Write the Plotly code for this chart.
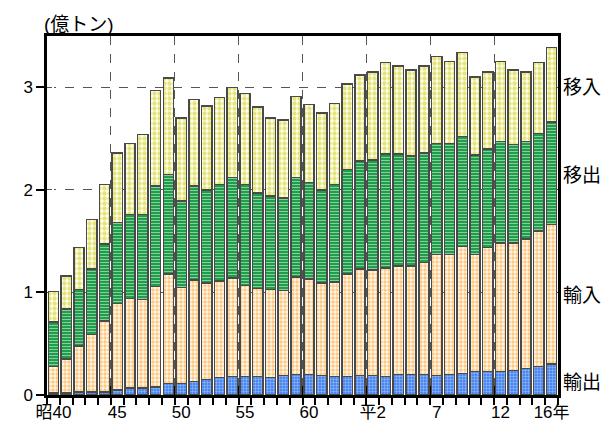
import plotly.graph_objects as go

years = list(range(40))
tick_idx = [0, 5, 10, 15, 20, 25, 30, 35, 39]
tick_text = ["昭40", "45", "50", "55", "60", "平2", "7", "12", "16年"]

exports = [0.02, 0.02, 0.03, 0.03, 0.03, 0.05, 0.07, 0.07, 0.08, 0.11,
           0.11, 0.13, 0.15, 0.17, 0.18, 0.18, 0.18, 0.17, 0.19, 0.20,
           0.20, 0.19, 0.18, 0.18, 0.19, 0.19, 0.18, 0.20, 0.20, 0.20,
           0.19, 0.20, 0.21, 0.23, 0.23, 0.23, 0.24, 0.26, 0.28, 0.30]
imports = [0.26, 0.33, 0.45, 0.56, 0.69, 0.84, 0.87, 0.86, 0.98, 1.07,
           0.94, 0.99, 0.94, 0.94, 0.96, 0.89, 0.86, 0.86, 0.83, 0.95,
           0.93, 0.90, 0.92, 1.00, 1.04, 1.03, 1.06, 1.06, 1.06, 1.09,
           1.18, 1.17, 1.24, 1.14, 1.21, 1.25, 1.24, 1.26, 1.32, 1.36]
ship_out = [0.43, 0.49, 0.55, 0.64, 0.75, 0.79, 0.82, 0.83, 0.98, 0.97,
            0.84, 0.92, 0.91, 0.94, 0.98, 0.98, 0.93, 0.91, 0.90, 0.97,
            0.94, 0.91, 0.95, 1.02, 1.05, 1.07, 1.11, 1.09, 1.07, 1.07,
            1.08, 1.08, 1.07, 0.97, 0.96, 0.99, 0.96, 0.95, 0.95, 1.00]
ship_in = [0.30, 0.32, 0.41, 0.48, 0.58, 0.68, 0.69, 0.78, 0.93, 0.94,
           0.81, 0.84, 0.82, 0.85, 0.88, 0.89, 0.84, 0.76, 0.76, 0.79,
           0.76, 0.75, 0.79, 0.83, 0.84, 0.86, 0.89, 0.86, 0.84, 0.85,
           0.85, 0.80, 0.82, 0.76, 0.75, 0.78, 0.73, 0.68, 0.69, 0.73]

series = [
    ("輸出", exports, dict(shape=".", fgcolor="#e6eeff", bgcolor="#3478ee", size=3, solidity=0.5)),
    ("輸入", imports, dict(shape=".", fgcolor="#f7980f", bgcolor="#fffaf2", size=4, solidity=0.6)),
    ("移出", ship_out, dict(shape="-", fgcolor="#ffffff", bgcolor="#13993f", size=3, solidity=0.4)),
    ("移入", ship_in, dict(shape=".", fgcolor="#c9c900", bgcolor="#fffff4", size=5, solidity=0.6)),
]

fig = go.Figure()
for name, vals, pat in series:
    fig.add_trace(go.Bar(
        x=years, y=vals, name=name,
        marker=dict(color=pat["bgcolor"], pattern=pat,
                    line=dict(color="#4a4a4a", width=1.5)),
        width=0.8,
    ))

# overlay axis for the dashed 5-year boundary gridlines
fig.add_trace(go.Scatter(x=[-0.5, 39.5], y=[0, 0], xaxis="x2", mode="lines",
                         line=dict(width=0), hoverinfo="skip", showlegend=False))

# right-side labels
label_y = [0.12, 0.97, 2.14, 3.0]
for (name, _, _), ly in zip(series, label_y):
    fig.add_annotation(x=1.0, xref="paper", y=ly, yref="y", text=name, showarrow=False,
                       xanchor="left", xshift=3, font=dict(size=19, color="#000"))

fig.add_annotation(x=-0.01, xref="paper", y=1.0, yref="paper", yanchor="bottom", yshift=-1,
                   text="(億トン)", showarrow=False, xanchor="left", font=dict(size=19, color="#000"))

fig.update_layout(
    width=606, height=434,
    margin=dict(l=47, r=48, t=36, b=34),
    barmode="stack", bargap=0.2,
    plot_bgcolor="white", paper_bgcolor="white",
    showlegend=False,
    font=dict(family="Liberation Sans, Noto Sans CJK JP, sans-serif", size=17, color="#000"),
    xaxis=dict(
        range=[-0.5, 39.5], tickmode="array", tickvals=tick_idx, ticktext=tick_text,
        ticks="", showgrid=False, zeroline=False,
        showline=True, linecolor="#000", linewidth=2.5, mirror=True,
        minor=dict(tickmode="array", tickvals=[i - 0.5 for i in range(41)],
                   ticks="outside", ticklen=7, tickwidth=2, tickcolor="#000"),
    ),
    xaxis2=dict(
        overlaying="x", range=[-0.5, 39.5], tickmode="array",
        tickvals=[4.5, 9.5, 14.5, 19.5, 24.5, 29.5, 34.5], showticklabels=False,
        showgrid=True, gridcolor="#555", griddash="dash", gridwidth=1,
        ticks="inside", ticklen=9, tickwidth=3, tickcolor="#000",
        layer="below traces", anchor="y", side="bottom",
    ),
    yaxis=dict(
        range=[0, 3.5], tickvals=[0, 1, 2, 3], ticks="outside", ticklen=8, tickwidth=2,
        tickcolor="#000", showgrid=True, gridcolor="#555", griddash="dash", gridwidth=1,
        zeroline=False, showline=True, linecolor="#000", linewidth=2.5, mirror=True,
        layer="below traces",
    ),
)

fig.write_html("out.html", config={"displayModeBar": False},
               post_script="document.body.style.margin='0px';")
